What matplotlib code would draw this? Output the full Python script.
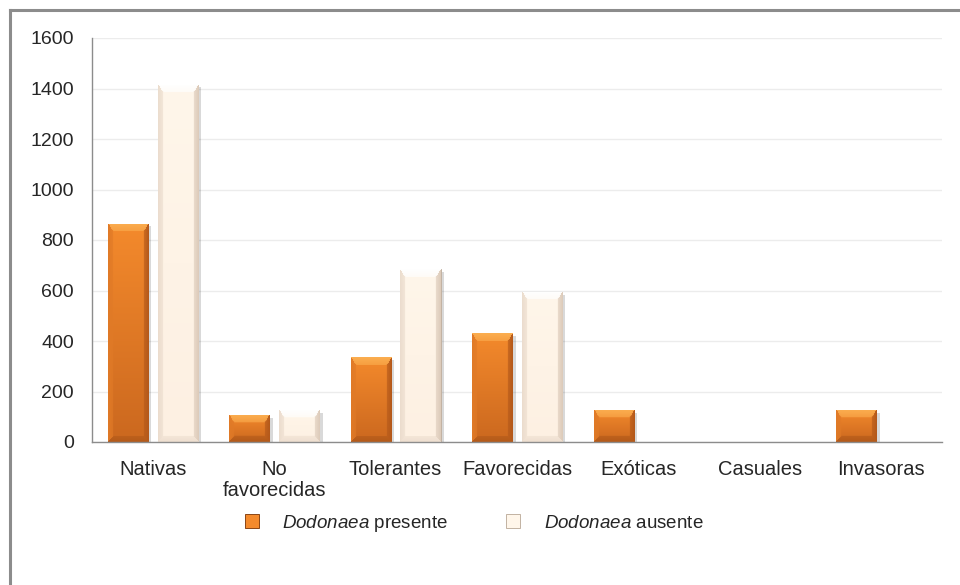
import numpy as np
import matplotlib
matplotlib.use("Agg")
import matplotlib.pyplot as plt
from matplotlib.patches import Patch
from matplotlib.lines import Line2D
from matplotlib.colors import to_rgb
import matplotlib.patheffects as pe

# --- data ---------------------------------------------------------------
categories = ["Nativas", "No\nfavorecidas", "Tolerantes", "Favorecidas",
              "Exóticas", "Casuales", "Invasoras"]
presente = [865, 107, 335, 430, 127, 0, 127]
ausente = [1415, 127, 685, 595, 0, 0, 0]
yticks = [0, 200, 400, 600, 800, 1000, 1200, 1400, 1600]
series_labels = [r"$\mathit{Dodonaea}$ presente", r"$\mathit{Dodonaea}$ ausente"]

# --- style --------------------------------------------------------------
plt.rcParams["font.family"] = ["Liberation Sans", "DejaVu Sans"]
plt.rcParams["mathtext.fontset"] = "custom"
plt.rcParams["mathtext.rm"] = "Liberation Sans"
plt.rcParams["mathtext.it"] = "Liberation Sans:italic"
TXT = "#262626"
FS = 13.5

# bevel palettes: centre top, centre bottom, top, bottom, left, right, edge
ORANGE = dict(ctop="#F48A2C", cbot="#CB681F", top="#FBAE50", bottom="#B35A1A",
              left="#E07A27", right="#B3581A", edge="#8A4616")
CREAM = dict(ctop="#FFF6EA", cbot="#FDF0E2", top="#FFFFFF", bottom="#EEDFD0",
             left="#EBDCCD", right="#DCCAB9", edge="#C2B2A2")


def bevel_image(hpx, wpx, pal, bt=8.0, bs=5.0, bb=6.0):
    hpx = max(int(round(hpx)), 2)
    wpx = max(int(round(wpx)), 2)
    yy, xx = np.mgrid[0:hpx, 0:wpx] + 0.5
    t = (yy / hpx)[..., None]
    img = np.array(to_rgb(pal["ctop"])) * (1 - t) + np.array(to_rgb(pal["cbot"])) * t
    scale = min(1.0, hpx / (bt + bb), wpx / (2 * bs))
    widths = np.array([bt, bb, bs, bs]) * scale
    dist = np.stack([yy, hpx - yy, xx, wpx - xx])
    norm = dist / widths[:, None, None]
    nearest = norm.argmin(axis=0)
    nmin = norm.min(axis=0)
    inside = nmin < 1
    for k, key in enumerate(["top", "bottom", "left", "right"]):
        m = inside & (nearest == k)
        col = np.array(to_rgb(pal[key]))
        f = (0.6 + 0.4 * (1 - nmin))[..., None]
        blended = img * (1 - f) + col * f
        img[m] = blended[m]
    return img


# --- figure -------------------------------------------------------------
fig = plt.figure(figsize=(9.6, 5.85), dpi=100)
fig.patch.set_facecolor("white")
ax = fig.add_axes([92 / 960, 1 - 442 / 585, 850 / 960, (442 - 38) / 585])

x = np.arange(len(categories))
width = 0.33
offset = 0.205
ax.set_xlim(-0.5, len(categories) - 0.5)
ax.set_ylim(0, 1600)

shadow = [pe.SimplePatchShadow(offset=(2.5, -2), shadow_rgbFace="#000000", alpha=0.15),
          pe.Normal()]

for vals, pos, pal in [(presente, x - offset, ORANGE), (ausente, x + offset, CREAM)]:
    lws = [0.7 if v > 0 else 0 for v in vals]
    bars = ax.bar(pos, vals, width, color=pal["ctop"], edgecolor=pal["edge"],
                  linewidth=lws, zorder=3)
    for bar, v in zip(bars, vals):
        if v <= 0:
            bar.set_visible(False)
            continue
        bar.set_path_effects(shadow)
        x0, y0 = bar.get_x(), bar.get_y()
        x1, y1 = x0 + bar.get_width(), y0 + bar.get_height()
        (px0, py0), (px1, py1) = ax.transData.transform([(x0, y0), (x1, y1)])
        img = bevel_image(abs(py1 - py0), abs(px1 - px0), pal)
        im = ax.imshow(img, extent=(x0, x1, y0, y1), origin="upper",
                       aspect="auto", interpolation="bilinear", zorder=3.5)
        im.set_clip_path(bar)

ax.set_xlim(-0.5, len(categories) - 0.5)
ax.set_ylim(0, 1600)

ax.set_yticks(yticks)
ax.set_yticklabels([str(v) for v in yticks])
ax.set_xticks(x)
ax.set_xticklabels(categories, linespacing=1.15)
ax.tick_params(axis="y", length=0, pad=13, labelsize=14, labelcolor=TXT)
ax.tick_params(axis="x", length=0, pad=13, labelsize=14.5, labelcolor=TXT)
ax.grid(axis="y", color="#ECECEC", linewidth=1.0, zorder=0)
ax.set_axisbelow(True)
for s in ["top", "right"]:
    ax.spines[s].set_visible(False)
for s in ["left", "bottom"]:
    ax.spines[s].set_color("#8C8C8C")
    ax.spines[s].set_linewidth(1.0)
ax.spines["bottom"].set_zorder(4)

# legend
handles = [Patch(facecolor=ORANGE["ctop"], edgecolor=ORANGE["edge"], linewidth=0.7),
           Patch(facecolor=CREAM["ctop"], edgecolor=CREAM["edge"], linewidth=0.7)]
fig.legend(handles, series_labels, loc="center", bbox_to_anchor=(0.494, 1 - 523 / 585),
           ncol=2, frameon=False, fontsize=FS, handlelength=0.75, handleheight=0.75,
           handletextpad=1.25, columnspacing=3.1, labelcolor=TXT)

# outer frame (left and top edges)
fig.add_artist(Line2D([9.5 / 960, 9.5 / 960], [0, 1 - 9.5 / 585],
                      transform=fig.transFigure, color="#8C8C8C", linewidth=2.2))
fig.add_artist(Line2D([9.5 / 960, 1], [1 - 9.5 / 585, 1 - 9.5 / 585],
                      transform=fig.transFigure, color="#8C8C8C", linewidth=2.2))

fig.savefig("out.png", dpi=100, facecolor="white")
